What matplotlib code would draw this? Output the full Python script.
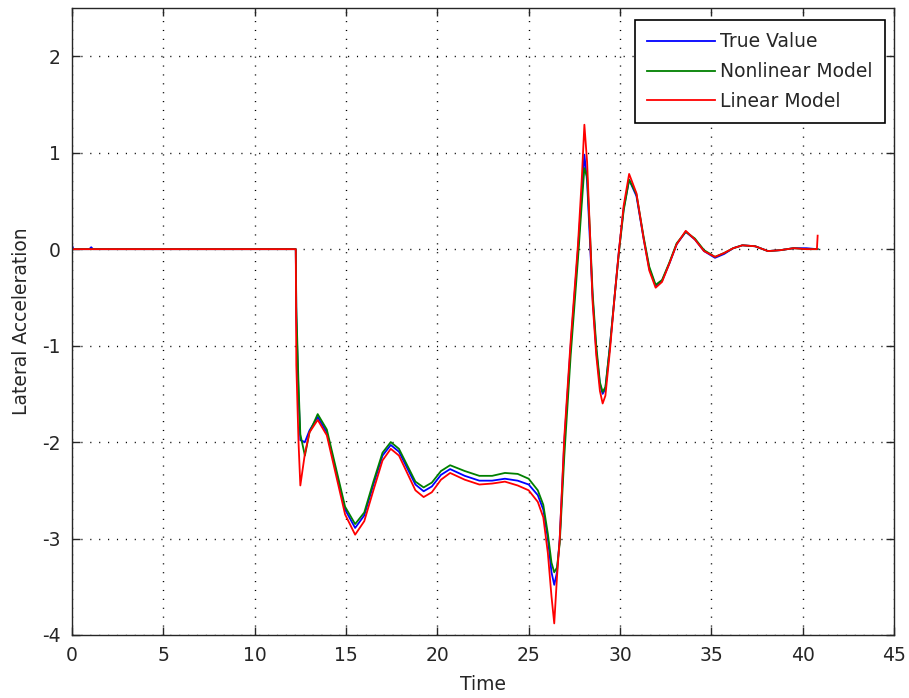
import matplotlib
matplotlib.use('Agg')
from matplotlib import pyplot as plt

plt.rcParams['font.family'] = ['DejaVu Sans']
plt.rcParams['axes.unicode_minus'] = False

# sample times (s) and lateral acceleration for the three signals
time = [0.0, 0.08, 0.2, 0.95, 1.05, 1.15, 12.25,
        12.28, 12.4, 12.5, 12.75, 13.0, 13.45, 13.95, 14.45, 14.95, 15.5,
        16.0, 16.5, 17.0, 17.45, 17.9, 18.35, 18.8, 19.25, 19.7, 20.2,
        20.7, 21.5, 22.3, 23.0, 23.7, 24.4, 25.0, 25.5, 25.8, 26.05,
        26.25, 26.4, 26.55, 26.7, 26.95, 27.3, 27.7, 27.9, 28.05, 28.2,
        28.35, 28.5, 28.7, 28.9, 29.05, 29.2, 29.45, 29.7, 29.95, 30.2,
        30.5, 30.9, 31.3, 31.6, 31.95, 32.3, 32.7, 33.1, 33.6, 34.1,
        34.6, 35.2, 35.7, 36.2, 36.7, 37.4, 38.1, 38.8, 39.5, 40.2,
        40.78, 40.82]

true_value = [0.04, 0.0, 0.0, 0.0, 0.02, 0.0, 0.0,
              -0.7, -1.5, -1.98, -2.0, -1.88, -1.74, -1.9, -2.3, -2.7, -2.89,
              -2.76, -2.44, -2.14, -2.03, -2.1, -2.27, -2.44, -2.51, -2.46, -2.34,
              -2.28, -2.35, -2.4, -2.4, -2.38, -2.4, -2.44, -2.55, -2.7, -3.0,
              -3.35, -3.48, -3.35, -3.0, -2.0, -1.0, 0.0, 0.55, 0.98, 0.7,
              0.1, -0.5, -1.05, -1.4, -1.5, -1.45, -1.0, -0.5, 0.0, 0.42,
              0.72, 0.55, 0.1, -0.2, -0.38, -0.33, -0.15, 0.05, 0.18, 0.1,
              -0.02, -0.09, -0.05, 0.01, 0.04, 0.03, -0.02, -0.01, 0.01, 0.01,
              0.0, 0.0]

nonlinear_model = [0.0, 0.0, 0.0, 0.0, 0.0, 0.0, 0.0,
                   -0.6, -1.4, -1.92, -2.14, -1.9, -1.71, -1.87, -2.27, -2.67, -2.85,
                   -2.73, -2.41, -2.11, -2.0, -2.07, -2.24, -2.41, -2.47, -2.42, -2.3,
                   -2.24, -2.3, -2.35, -2.35, -2.32, -2.33, -2.38, -2.5, -2.65, -2.95,
                   -3.25, -3.35, -3.3, -3.05, -2.15, -1.1, -0.1, 0.45, 0.84, 0.75,
                   0.2, -0.45, -1.0, -1.38, -1.48, -1.43, -1.0, -0.5, -0.02, 0.4,
                   0.72, 0.57, 0.12, -0.18, -0.37, -0.32, -0.14, 0.06, 0.18, 0.11,
                   -0.01, -0.08, -0.04, 0.01, 0.04, 0.03, -0.02, -0.01, 0.01, 0.0,
                   0.0, 0.0]

linear_model = [0.0, 0.0, 0.0, 0.0, 0.0, 0.0, 0.0,
                -1.2, -2.0, -2.45, -2.12, -1.9, -1.77, -1.93, -2.34, -2.75, -2.96,
                -2.82, -2.5, -2.19, -2.07, -2.14, -2.32, -2.5, -2.57, -2.52, -2.39,
                -2.32, -2.39, -2.44, -2.43, -2.41, -2.45, -2.5, -2.62, -2.78, -3.15,
                -3.6, -3.88, -3.4, -3.0, -1.95, -0.95, 0.05, 0.7, 1.29, 0.9,
                0.2, -0.55, -1.1, -1.47, -1.6, -1.52, -1.05, -0.5, 0.0, 0.45,
                0.78, 0.58, 0.1, -0.22, -0.40, -0.34, -0.15, 0.05, 0.19, 0.1,
                -0.02, -0.08, -0.04, 0.01, 0.04, 0.03, -0.02, -0.01, 0.01, 0.0,
                0.0, 0.14]

fig = plt.figure(figsize=(9.09, 6.98), dpi=100)
ax = fig.add_axes([72 / 909, 1 - 635 / 698, 822 / 909, 627 / 698])

ax.plot(time, true_value, color='#0000ff', linewidth=1.3, label='True Value')
ax.plot(time, nonlinear_model, color='#008000', linewidth=1.3, label='Nonlinear Model')
ax.plot(time, linear_model, color='#ff0000', linewidth=1.3, label='Linear Model')

ax.set_xlim(0, 45)
ax.set_ylim(-4, 2.5)
ax.set_xticks(range(0, 46, 5))
ax.set_yticks(range(-4, 3))
ax.grid(True, linestyle=(0, (0.8, 5.6)), color='black', linewidth=1.0)
ax.tick_params(direction='in', length=5.5, width=1.0, top=True, right=True,
               labelsize=13.5, colors='#262626', pad=8)
for side in ax.spines.values():
    side.set_color('#262626')
    side.set_linewidth(1.0)

ax.set_xlabel('Time', fontsize=13.5, labelpad=7, color='#262626')
ax.set_ylabel('Lateral Acceleration', fontsize=13.5, labelpad=8, color='#262626')

leg = ax.legend(loc='upper right', bbox_to_anchor=(885 / 909, 1 - 20 / 698),
                bbox_transform=fig.transFigure, borderaxespad=0,
                fontsize=13.5, fancybox=False, framealpha=1, edgecolor='black',
                handlelength=3.6, handletextpad=0.3, borderpad=0.65,
                labelspacing=0.58)
leg.get_frame().set_linewidth(1.2)
for text in leg.get_texts():
    text.set_color('#262626')

plt.savefig('out.png', dpi=100)
